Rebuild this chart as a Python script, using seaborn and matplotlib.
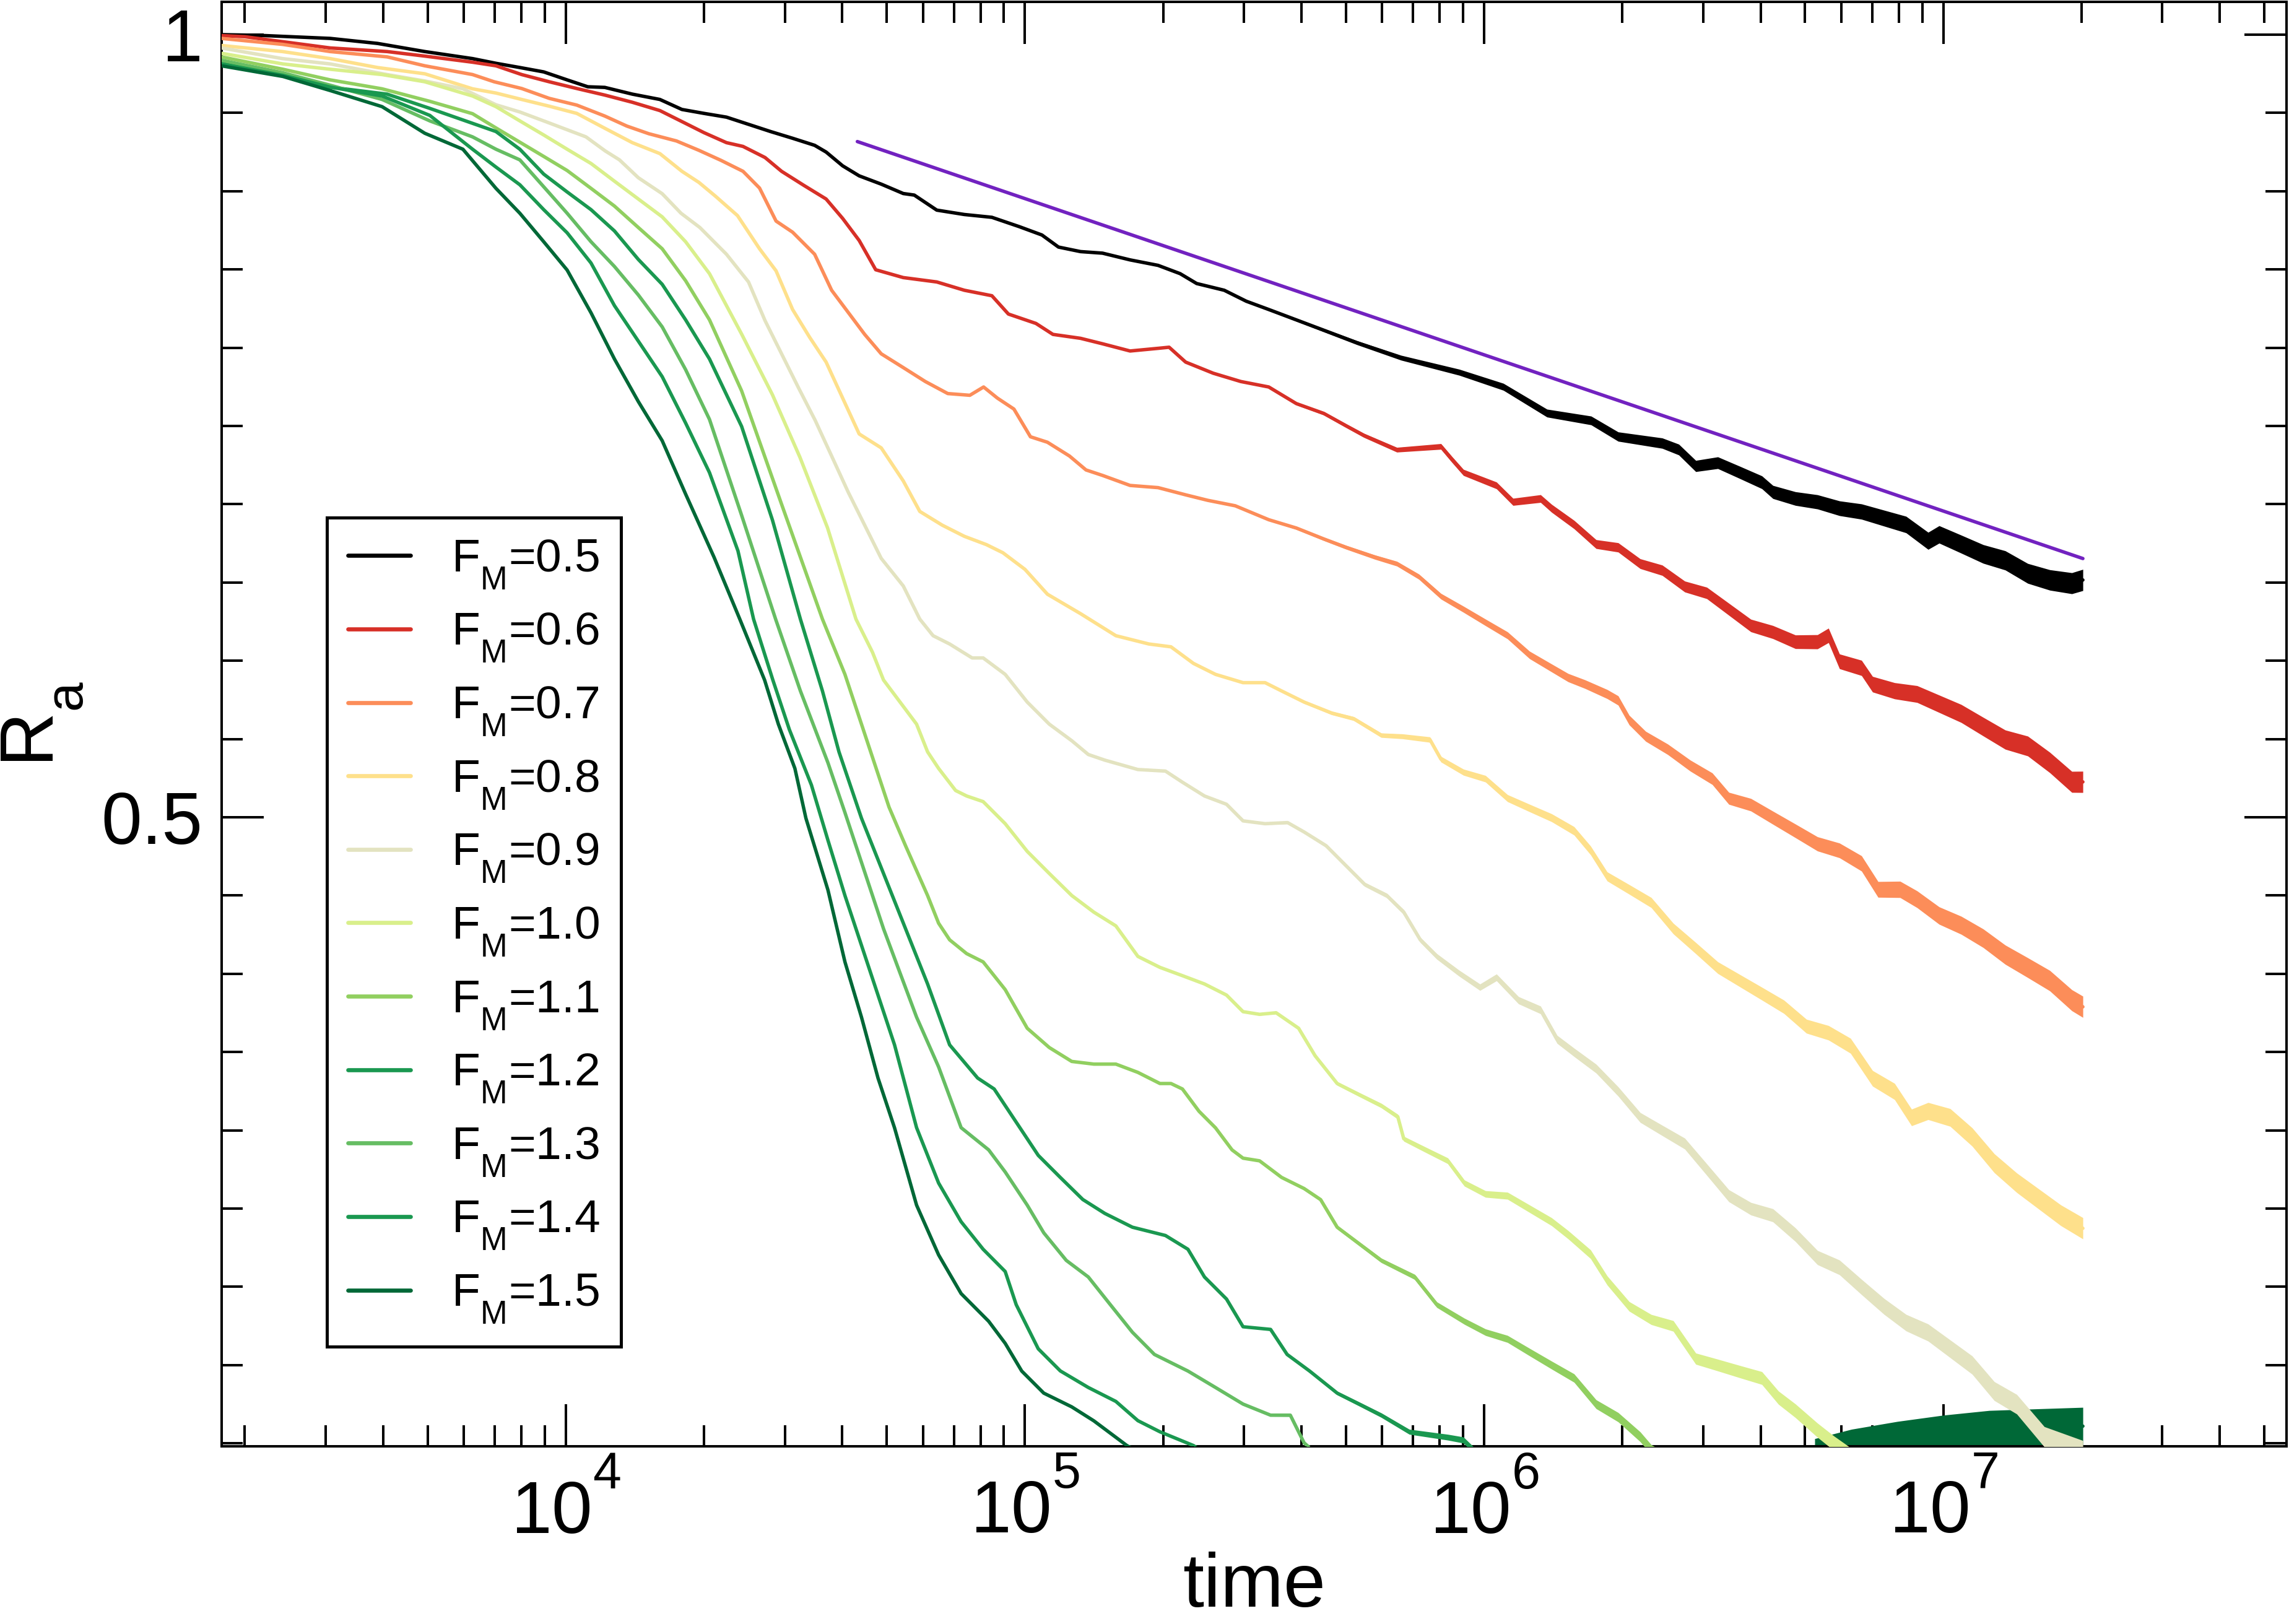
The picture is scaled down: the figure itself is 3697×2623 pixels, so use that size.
import numpy as np
import matplotlib
matplotlib.use('Agg')
import matplotlib.pyplot as plt
import matplotlib._mathtext as _mt
import seaborn as sns
from matplotlib.ticker import LogLocator, NullFormatter, MultipleLocator

# ---------------- data (x = log10(time), y = R_a) ----------------
labels = ['F$_M$=0.5', 'F$_M$=0.6', 'F$_M$=0.7', 'F$_M$=0.8', 'F$_M$=0.9', 'F$_M$=1.0',
          'F$_M$=1.1', 'F$_M$=1.2', 'F$_M$=1.3', 'F$_M$=1.4', 'F$_M$=1.5']
colors = ['#000000', '#d73027', '#fc8d59', '#fee08b', '#e3e3c0', '#d9ef8b',
          '#91cf60', '#1a9850', '#66bd63', '#1a9850', '#006837']

fm05 = [(3.25,1.000),(3.337,0.9995),(3.487,0.9976),(3.59,0.9944),(3.693,0.9892),(3.797,0.9847),
        (3.848,0.9817),(3.9,0.979),(3.952,0.9762),(4.003,0.9711),(4.048,0.9667),(4.085,0.9663),
        (4.145,0.962),(4.205,0.9586),(4.253,0.9522),(4.301,0.9497),(4.35,0.9473),(4.398,0.9427),
        (4.446,0.9381),(4.494,0.9338),(4.542,0.9293),(4.567,0.925),(4.603,0.9162),(4.639,0.9098),
        (4.687,0.9045),(4.735,0.8985),(4.759,0.8975),(4.808,0.8879),(4.868,0.8851),(4.928,0.8833),
        (4.988,0.8773),(5.037,0.872),(5.073,0.8643),(5.121,0.8614),(5.169,0.8604),(5.229,0.8561),
        (5.29,0.8526),(5.338,0.8473),(5.374,0.841),(5.434,0.8367),(5.482,0.8297),(5.531,0.8244),
        (5.579,0.8191),(5.627,0.8138),(5.675,0.8085),(5.723,0.8032),(5.819,0.7936),(5.946,0.7843),
        (6.042,0.775),(6.137,0.7582),(6.233,0.7535),(6.292,0.7432),(6.388,0.739),(6.424,0.7349),
        (6.461,0.7244),(6.509,0.7265),(6.557,0.7203),(6.605,0.714),(6.629,0.7078),(6.678,0.7036),
        (6.726,0.7015),(6.774,0.6974),(6.822,0.6953),(6.871,0.6911),(6.919,0.687),(6.967,0.6766),
        (6.991,0.6807),(7.039,0.6745),(7.087,0.6682),(7.135,0.6641),(7.184,0.6558),(7.232,0.6516),
        (7.28,0.6495),(7.304,0.6516)]

fm06 = [(3.25,0.9994),(3.301,0.9987),(3.487,0.9915),(3.611,0.9892),(3.693,0.9863),(3.797,0.9824),
        (3.848,0.9801),(3.904,0.9745),(3.964,0.9699),(4.024,0.9656),(4.085,0.9614),(4.145,0.9568),
        (4.205,0.9515),(4.265,0.9427),(4.301,0.9374),(4.35,0.931),(4.386,0.9286),(4.434,0.9215),
        (4.47,0.9127),(4.518,0.9038),(4.567,0.895),(4.603,0.8826),(4.639,0.8685),(4.675,0.8498),
        (4.735,0.8448),(4.808,0.842),(4.868,0.8367),(4.928,0.8332),(4.964,0.8215),(5.024,0.8155),
        (5.061,0.8085),(5.121,0.806),(5.169,0.8025),(5.229,0.7979),(5.29,0.7996),(5.314,0.8003),
        (5.35,0.7908),(5.41,0.7837),(5.47,0.7784),(5.531,0.7749),(5.591,0.7643),(5.651,0.758),
        (5.699,0.7502),(5.738,0.744),(5.81,0.7348),(5.906,0.7369),(5.93,0.7286),(5.955,0.7203),
        (6.027,0.712),(6.063,0.7015),(6.123,0.7036),(6.147,0.6974),(6.196,0.687),(6.244,0.6745),
        (6.292,0.6724),(6.34,0.662),(6.388,0.6578),(6.437,0.6474),(6.485,0.6433),(6.533,0.6329),
        (6.581,0.6225),(6.629,0.6183),(6.678,0.6121),(6.726,0.6121),(6.75,0.6162),(6.774,0.5996),
        (6.822,0.5954),(6.846,0.585),(6.894,0.5808),(6.943,0.5787),(6.991,0.5725),(7.039,0.5663),
        (7.087,0.5579),(7.135,0.5496),(7.184,0.5455),(7.232,0.535),(7.28,0.5226),(7.304,0.5226)]

fm07 = [(3.25,0.9976),(3.383,0.9938),(3.487,0.9892),(3.611,0.9858),(3.693,0.9801),(3.797,0.9745),
        (3.844,0.9699),(3.904,0.9656),(3.964,0.9593),(4.024,0.955),(4.085,0.948),(4.133,0.9416),
        (4.181,0.9367),(4.241,0.9321),(4.29,0.9261),(4.338,0.9197),(4.386,0.9127),(4.422,0.902),
        (4.458,0.8809),(4.494,0.8738),(4.542,0.8597),(4.579,0.8367),(4.615,0.8226),(4.651,0.8085),
        (4.687,0.7961),(4.735,0.7873),(4.783,0.7784),(4.832,0.7707),(4.88,0.7696),(4.91,0.7749),
        (4.94,0.7678),(4.976,0.7608),(5.012,0.7431),(5.049,0.7396),(5.097,0.7308),(5.133,0.7219),
        (5.169,0.7184),(5.229,0.712),(5.29,0.7106),(5.35,0.706),(5.398,0.7025),(5.458,0.699),
        (5.531,0.6901),(5.591,0.6848),(5.651,0.6778),(5.699,0.6725),(5.762,0.6662),(5.81,0.662),
        (5.858,0.6537),(5.906,0.6412),(5.955,0.6329),(6.003,0.6245),(6.051,0.6162),(6.099,0.6037),
        (6.147,0.5954),(6.183,0.5892),(6.22,0.585),(6.268,0.5787),(6.292,0.5746),(6.316,0.5621),
        (6.352,0.5517),(6.4,0.5434),(6.449,0.533),(6.497,0.5246),(6.533,0.5121),(6.581,0.508),
        (6.629,0.4997),(6.678,0.4913),(6.726,0.483),(6.774,0.4788),(6.822,0.4705),(6.858,0.4539),
        (6.906,0.4539),(6.943,0.4476),(6.991,0.4372),(7.039,0.431),(7.087,0.4227),(7.135,0.4122),
        (7.184,0.4039),(7.232,0.3956),(7.28,0.3831),(7.304,0.3789)]

fm08 = [(3.25,0.9931),(3.383,0.9892),(3.487,0.9847),(3.59,0.979),(3.693,0.975),(3.797,0.9654),
        (3.848,0.9627),(3.904,0.9586),(3.964,0.9543),(4.024,0.9497),(4.085,0.9402),(4.145,0.931),
        (4.205,0.924),(4.253,0.9127),(4.29,0.9056),(4.326,0.8968),(4.374,0.8844),(4.422,0.8632),
        (4.458,0.8491),(4.494,0.8244),(4.531,0.8067),(4.567,0.7908),(4.603,0.7678),(4.639,0.7449),
        (4.687,0.736),(4.735,0.7149),(4.771,0.6954),(4.82,0.6866),(4.868,0.6795),(4.916,0.6742),
        (4.952,0.669),(5.0,0.6584),(5.049,0.6425),(5.121,0.6301),(5.198,0.616),(5.27,0.6107),
        (5.318,0.6089),(5.367,0.5983),(5.415,0.5913),(5.475,0.586),(5.523,0.586),(5.559,0.5807),
        (5.608,0.5736),(5.668,0.5666),(5.716,0.563),(5.776,0.5524),(5.822,0.5517),(5.882,0.5496),
        (5.906,0.5371),(5.955,0.5288),(6.003,0.5246),(6.051,0.5122),(6.099,0.5059),(6.147,0.4997),
        (6.196,0.4913),(6.232,0.4788),(6.268,0.4622),(6.316,0.4539),(6.364,0.4455),(6.412,0.4289),
        (6.461,0.4164),(6.509,0.4039),(6.557,0.3956),(6.605,0.3873),(6.653,0.3789),(6.702,0.3665),
        (6.75,0.3623),(6.798,0.354),(6.846,0.3332),(6.894,0.3248),(6.931,0.3082),(6.967,0.3123),
        (7.015,0.3082),(7.063,0.2957),(7.111,0.279),(7.16,0.2665),(7.208,0.2561),(7.256,0.2457),
        (7.304,0.2374)]

fm09 = [(3.25,0.9915),(3.383,0.9847),(3.487,0.9813),(3.611,0.9745),(3.693,0.9704),(3.776,0.9654),
        (3.848,0.9552),(3.9,0.9506),(3.962,0.9438),(4.044,0.9347),(4.086,0.9257),(4.117,0.92),
        (4.158,0.9086),(4.21,0.8984),(4.251,0.8859),(4.292,0.8768),(4.35,0.8597),(4.398,0.842),
        (4.434,0.8173),(4.47,0.7961),(4.506,0.7749),(4.543,0.7537),(4.579,0.7308),(4.615,0.7078),
        (4.651,0.6866),(4.687,0.6654),(4.735,0.6478),(4.771,0.6266),(4.8,0.616),(4.836,0.6107),
        (4.885,0.6018),(4.909,0.6018),(4.957,0.5913),(5.005,0.5736),(5.053,0.5595),(5.102,0.5489),
        (5.138,0.5401),(5.174,0.5365),(5.246,0.5305),(5.306,0.5295),(5.343,0.5224),(5.391,0.5136),
        (5.439,0.5083),(5.475,0.4977),(5.523,0.4959),(5.572,0.4966),(5.608,0.4906),(5.656,0.4818),
        (5.692,0.4712),(5.74,0.4571),(5.788,0.45),(5.825,0.4394),(5.861,0.4217),(5.897,0.4111),
        (5.945,0.4005),(5.991,0.3914),(6.027,0.3977),(6.075,0.3831),(6.123,0.3769),(6.159,0.3581),
        (6.196,0.3498),(6.244,0.3394),(6.292,0.3248),(6.34,0.3082),(6.388,0.2999),(6.437,0.2915),
        (6.485,0.2749),(6.533,0.2582),(6.581,0.2499),(6.629,0.2457),(6.678,0.2333),(6.726,0.2187),
        (6.774,0.2124),(6.822,0.1999),(6.871,0.1875),(6.919,0.1771),(6.967,0.1708),(7.015,0.1604),
        (7.063,0.15),(7.111,0.1334),(7.16,0.125),(7.22,0.1042),(7.304,0.095)]

fm10 = [(3.25,0.9881),(3.384,0.9813),(3.487,0.9779),(3.6,0.9745),(3.693,0.9699),(3.797,0.9608),
        (3.848,0.954),(3.9,0.9449),(3.952,0.9359),(4.003,0.9268),(4.055,0.9177),(4.106,0.9064),
        (4.158,0.895),(4.21,0.8836),(4.261,0.8677),(4.313,0.8473),(4.383,0.8087),(4.45,0.77),
        (4.51,0.73),(4.57,0.685),(4.632,0.6266),(4.668,0.6054),(4.692,0.5877),(4.728,0.5736),
        (4.764,0.5595),(4.788,0.5418),(4.812,0.5312),(4.849,0.5171),(4.873,0.5136),(4.909,0.51),
        (4.957,0.4959),(5.005,0.4782),(5.053,0.4641),(5.102,0.45),(5.15,0.4394),(5.198,0.4306),
        (5.246,0.4111),(5.294,0.4041),(5.343,0.3988),(5.391,0.3935),(5.439,0.3864),(5.475,0.3758),
        (5.511,0.3741),(5.547,0.3751),(5.596,0.3652),(5.632,0.3476),(5.68,0.3299),(5.728,0.3228),
        (5.776,0.3158),(5.812,0.3087),(5.825,0.2946),(5.873,0.2875),(5.921,0.2805),(5.957,0.2663),
        (6.003,0.2593),(6.051,0.2582),(6.099,0.2499),(6.147,0.2416),(6.183,0.2333),(6.232,0.2208),
        (6.268,0.2041),(6.316,0.1875),(6.364,0.1791),(6.412,0.175),(6.461,0.1541),(6.509,0.15),
        (6.557,0.1458),(6.605,0.1417),(6.641,0.1292),(6.678,0.1208),(6.726,0.1084),(6.762,0.1),
        (6.8,0.092)]

fm11 = [(3.25,0.9858),(3.384,0.9779),(3.487,0.9711),(3.6,0.9654),(3.704,0.9574),(3.797,0.9495),
        (3.848,0.9404),(3.9,0.9313),(3.952,0.9222),(4.003,0.9132),(4.055,0.9018),(4.106,0.8905),
        (4.158,0.8768),(4.21,0.8632),(4.261,0.8428),(4.313,0.8178),(4.383,0.7724),(4.47,0.70),
        (4.559,0.6266),(4.608,0.5913),(4.644,0.5595),(4.68,0.5277),(4.704,0.5065),(4.74,0.4818),
        (4.788,0.45),(4.812,0.4323),(4.836,0.4217),(4.873,0.4129),(4.909,0.4076),(4.957,0.3899),
        (5.005,0.3652),(5.053,0.3529),(5.102,0.344),(5.15,0.3423),(5.198,0.3423),(5.246,0.337),
        (5.294,0.3299),(5.318,0.3299),(5.343,0.3264),(5.379,0.3122),(5.415,0.3016),(5.451,0.2875),
        (5.475,0.2822),(5.511,0.2805),(5.559,0.2699),(5.608,0.2628),(5.644,0.2557),(5.68,0.2381),
        (5.728,0.2275),(5.776,0.2169),(5.849,0.2063),(5.897,0.1886),(5.957,0.178),(6.003,0.171),
        (6.051,0.1667),(6.099,0.1583),(6.147,0.15),(6.196,0.1417),(6.244,0.125),(6.292,0.1167),
        (6.34,0.1042),(6.364,0.0959),(6.4,0.09)]

fm12 = [(3.25,0.9824),(3.384,0.9745),(3.487,0.9665),(3.611,0.962),(3.704,0.9529),(3.848,0.9381),
        (3.9,0.9268),(3.952,0.9109),(4.003,0.8995),(4.055,0.8882),(4.106,0.8746),(4.158,0.8564),
        (4.21,0.8405),(4.261,0.8178),(4.313,0.7928),(4.383,0.7497),(4.45,0.69),(4.511,0.6266),
        (4.559,0.5807),(4.595,0.5418),(4.644,0.4994),(4.692,0.4641),(4.74,0.4288),(4.788,0.3935),
        (4.836,0.3546),(4.897,0.3334),(4.933,0.3264),(4.981,0.3052),(5.029,0.284),(5.077,0.2699),
        (5.126,0.2558),(5.174,0.2469),(5.234,0.2381),(5.306,0.2328),(5.355,0.224),(5.391,0.2063),
        (5.439,0.1922),(5.475,0.1745),(5.535,0.1728),(5.571,0.1568),(5.62,0.1462),(5.68,0.1321),
        (5.728,0.1251),(5.776,0.118),(5.837,0.1074),(5.921,0.1039),(5.955,0.1021),(5.99,0.092)]

fm13 = [(3.25,0.9836),(3.384,0.9756),(3.487,0.9677),(3.6,0.9586),(3.704,0.9449),(3.797,0.9347),
        (3.848,0.9268),(3.9,0.92),(3.962,0.8995),(4.003,0.8859),(4.055,0.8677),(4.106,0.8519),
        (4.158,0.8337),(4.21,0.8133),(4.261,0.786),(4.313,0.7542),(4.383,0.6929),(4.457,0.6266),
        (4.511,0.5807),(4.571,0.5348),(4.608,0.503),(4.644,0.4712),(4.692,0.4288),(4.728,0.4005),
        (4.764,0.3723),(4.812,0.3405),(4.861,0.3017),(4.921,0.2875),(4.957,0.2734),(5.005,0.2522),
        (5.041,0.2345),(5.09,0.2169),(5.138,0.2063),(5.186,0.1886),(5.234,0.171),(5.282,0.1568),
        (5.355,0.1462),(5.415,0.1357),(5.475,0.1251),(5.535,0.118),(5.578,0.118),(5.608,0.1003),
        (5.64,0.092)]

fm14 = [(3.25,0.9813),(3.384,0.974),(3.487,0.9665),(3.6,0.9608),(3.704,0.9484),(3.797,0.9268),
        (3.848,0.9154),(3.9,0.9041),(3.952,0.8882),(4.003,0.8734),(4.055,0.8541),(4.106,0.8269),
        (4.158,0.8042),(4.21,0.7815),(4.261,0.7519),(4.313,0.7202),(4.375,0.6702),(4.409,0.6266),
        (4.451,0.5877),(4.487,0.556),(4.535,0.5206),(4.571,0.4853),(4.608,0.45),(4.644,0.4182),
        (4.68,0.3864),(4.716,0.3546),(4.764,0.3017),(4.812,0.2663),(4.861,0.2416),(4.909,0.224),
        (4.957,0.2098),(4.981,0.1886),(5.029,0.1604),(5.077,0.1463),(5.138,0.1357),(5.198,0.1268),
        (5.246,0.1145),(5.294,0.1074),(5.367,0.0986),(5.4,0.092)]

fm15 = [(3.25,0.9801),(3.384,0.9733),(3.487,0.9643),(3.6,0.954),(3.693,0.937),(3.776,0.9268),
        (3.848,0.9018),(3.9,0.8859),(3.952,0.8677),(4.003,0.8496),(4.055,0.8223),(4.106,0.7928),
        (4.158,0.7656),(4.21,0.7406),(4.261,0.7065),(4.323,0.6661),(4.379,0.6266),(4.433,0.5877),
        (4.463,0.5595),(4.499,0.5312),(4.523,0.4994),(4.571,0.4535),(4.608,0.4076),(4.644,0.3723),
        (4.68,0.3334),(4.716,0.3016),(4.764,0.2522),(4.812,0.2204),(4.861,0.1957),(4.921,0.178),
        (4.957,0.1639),(4.993,0.1462),(5.041,0.1321),(5.102,0.1233),(5.15,0.1144),(5.222,0.0986),
        (5.26,0.092)]

# late-time F_M=1.5 data sitting on the lower edge (noisy band)
fm15_late = [(6.72,0.097),(6.8,0.101),(6.9,0.104),(7.0,0.107),(7.1,0.109),(7.2,0.110),(7.304,0.111)]
fm15_late_hw = [0.006, 0.008, 0.010, 0.011, 0.012, 0.012, 0.012]

# straight guide line (power-law fit)
fit_logt = [4.635, 7.304]
fit_r = [0.9317, 0.6653]

# visual half-width of the fluctuations vs log10(time)
noise_logt = [5.3, 5.8, 6.3, 6.8, 7.3]
noise_hw = [0.0, 0.0015, 0.003, 0.0048, 0.0068]

ytick_vals = [0.5, 1.0]
ytick_labels = ['0.5', '1']

series = [fm05, fm06, fm07, fm08, fm09, fm10, fm11, fm12, fm13, fm14, fm15]

# ---------------- style ----------------
sns.set_theme(style='ticks', rc={'axes.edgecolor': 'black', 'xtick.color': 'black',
                                 'ytick.color': 'black', 'text.color': 'black',
                                 'axes.labelcolor': 'black'})
plt.rcParams['font.family'] = ['Liberation Sans', 'DejaVu Sans']
plt.rcParams['mathtext.fontset'] = 'custom'
plt.rcParams['mathtext.rm'] = 'Liberation Sans'
plt.rcParams['mathtext.it'] = 'Liberation Sans:italic'
plt.rcParams['mathtext.bf'] = 'Liberation Sans:bold'
plt.rcParams['mathtext.default'] = 'regular'
# xmgrace-like script placement: higher superscripts, lower subscripts
try:
    _mt.FontConstantsBase.sup1 = 1.15
    _mt.FontConstantsBase.sub1 = 0.75
except Exception:
    pass

fig = plt.figure(figsize=(36.97, 26.23), dpi=100)
ax = fig.add_axes([0.0968, 0.1094, 0.9021, 0.8895])

LW = 4.0

# late F_M=1.5 band (drawn underneath)
lt, rr = np.array(fm15_late).T
ax.fill_between(10 ** lt, rr - np.array(fm15_late_hw), rr + np.array(fm15_late_hw),
                color=colors[-1], lw=0, zorder=1)
sns.lineplot(x=10 ** lt, y=rr, color=colors[-1], lw=LW, ax=ax, estimator=None,
             sort=False, legend=False, zorder=1)

handles = []
for i, (pts, col, lab) in enumerate(zip(series, colors, labels)):
    lt, rr = np.array(pts).T
    hw = np.interp(lt, noise_logt, noise_hw)
    ax.fill_between(10 ** lt, rr - hw, rr + hw, color=col, lw=0, zorder=2 + i)
    sns.lineplot(x=10 ** lt, y=rr, color=col, lw=LW, ax=ax, estimator=None,
                 sort=False, legend=False, zorder=2 + i)
    line = ax.lines[-1]
    line.set_label(lab)
    handles.append(line)

sns.lineplot(x=10 ** np.array(fit_logt), y=fit_r, color='#7222c0', lw=LW, ax=ax,
             estimator=None, sort=False, legend=False, zorder=20)

# ---------------- axes ----------------
ax.set_xscale('log')
ax.set_xlim(1780, 5.59e7)
ax.set_ylim(0.0981, 1.021)
ax.xaxis.set_major_locator(LogLocator(base=10, numticks=20))
ax.xaxis.set_minor_locator(LogLocator(base=10, subs=np.arange(2, 10), numticks=200))
ax.xaxis.set_minor_formatter(NullFormatter())
ax.set_yticks(ytick_vals, labels=ytick_labels)
ax.yaxis.set_minor_locator(MultipleLocator(0.05))
ax.tick_params(which='both', direction='in', top=True, right=True, width=2.9,
               colors='black', labelsize=85, pad=22)
ax.tick_params(which='major', length=49)
ax.tick_params(which='minor', length=24.5)
for s in ax.spines.values():
    s.set_linewidth(2.9)
    s.set_color('black')

ax.set_xlabel('time', fontsize=88)
ax.xaxis.set_label_coords(0.5, -0.111)
ax.xaxis.label.set_va('baseline')
ax.set_ylabel('R$_a$', fontsize=88)
ax.yaxis.set_label_coords(-0.081, 0.5)
ax.yaxis.label.set_va('baseline')

leg = ax.legend(handles=handles, labels=labels, loc='upper left',
                bbox_to_anchor=(0.051, 0.643), borderaxespad=0, fontsize=54,
                frameon=True, fancybox=False, edgecolor='black', framealpha=1,
                handlelength=1.35, handletextpad=0.88, labelspacing=0.445, borderpad=0.45)
leg.get_frame().set_linewidth(3.6)
for l in leg.get_lines():
    l.set_linewidth(4.8)

fig.savefig('out.png', dpi=100)
